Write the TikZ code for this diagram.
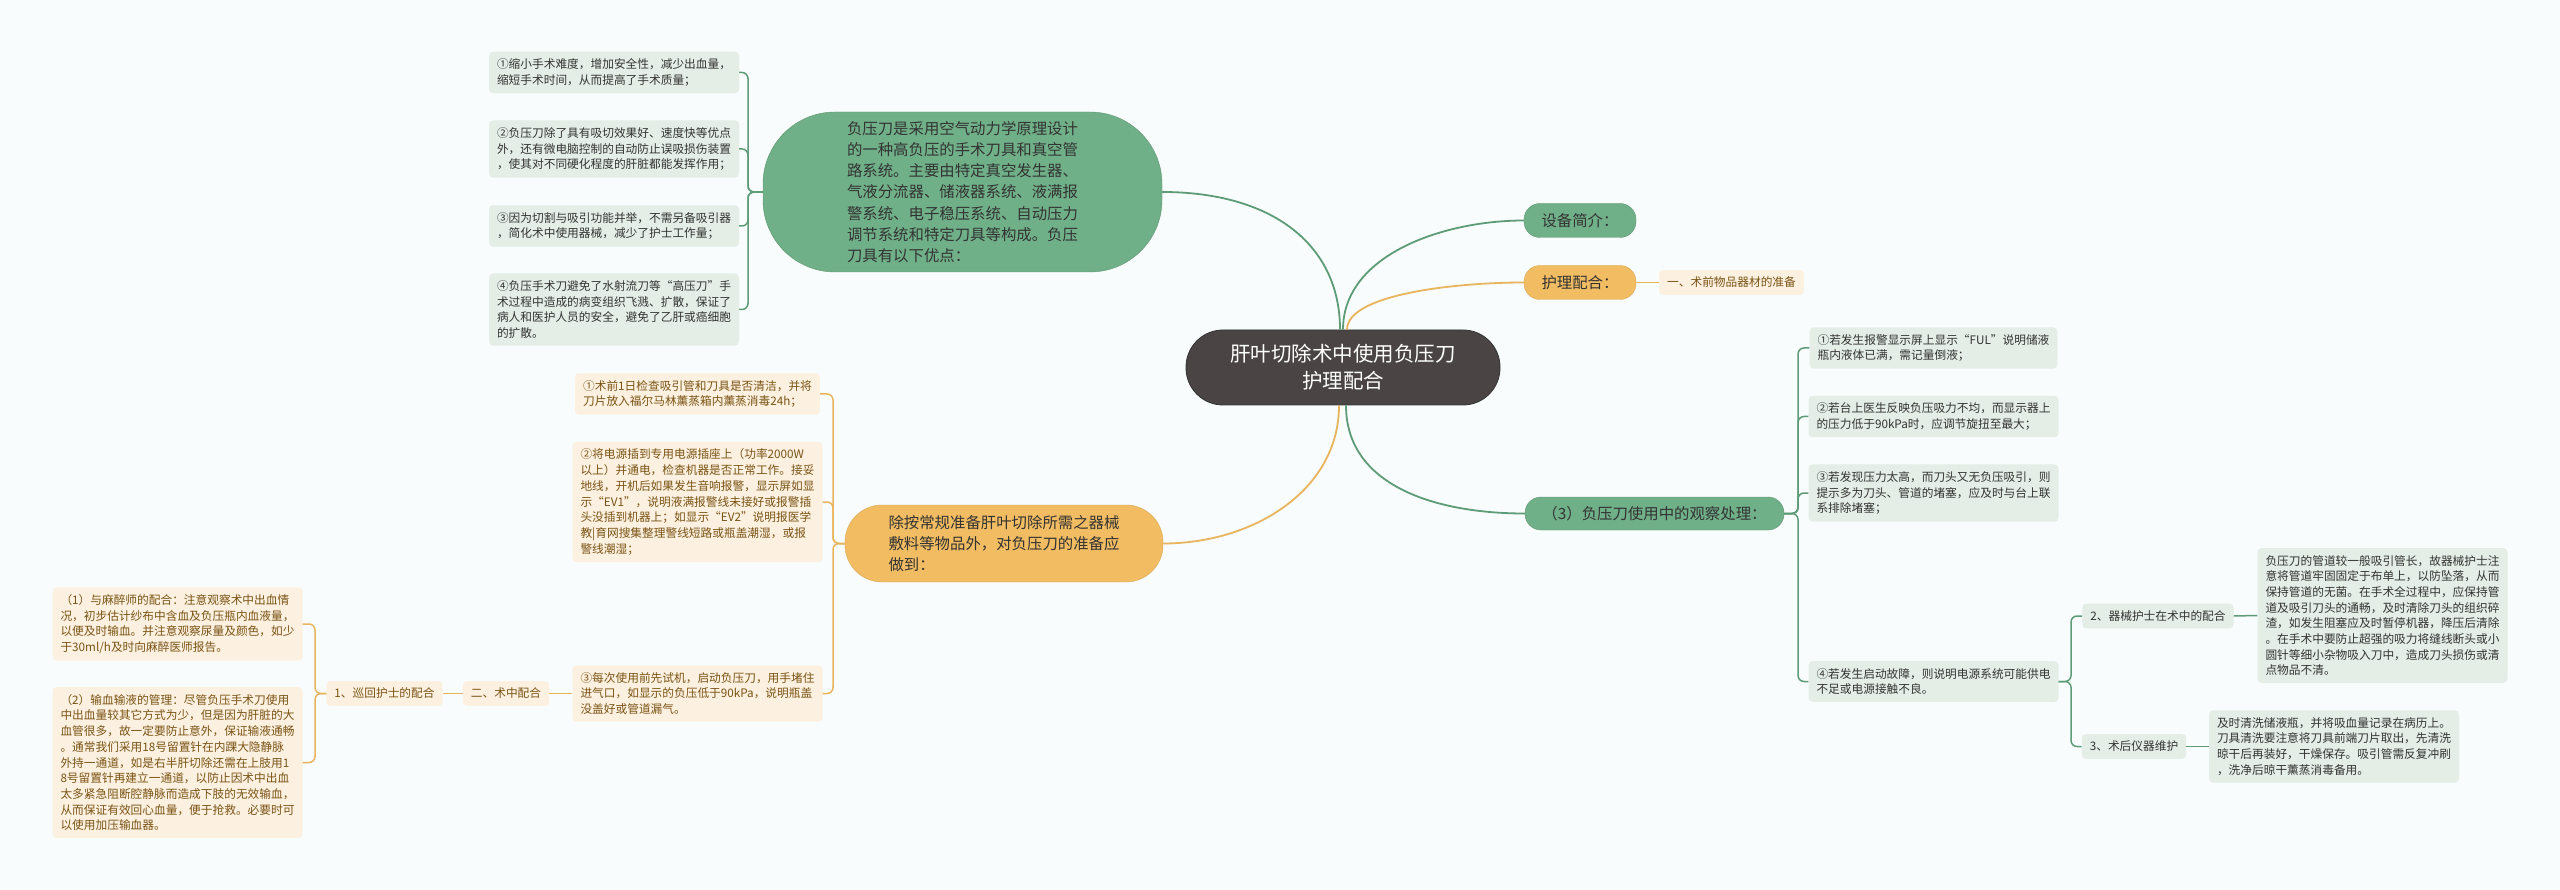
\documentclass[tikz,border=0pt]{standalone}
\usepackage{fontspec}
\setmainfont{Noto Sans CJK SC}
\usepackage{xcolor}
\usepackage{tikz}
\usetikzlibrary{positioning, calc}

\definecolor{bgc}{HTML}{F8FCFC}
\definecolor{rootc}{HTML}{4A4544}
\definecolor{gtop}{HTML}{70B088}
\definecolor{gln}{HTML}{5E9C78}
\definecolor{gleafc}{HTML}{E4EEE7}
\definecolor{otop}{HTML}{F1BC62}
\definecolor{oln}{HTML}{E8B45C}
\definecolor{oleafc}{HTML}{FCF0E0}
\definecolor{txt}{HTML}{333333}
\definecolor{otxt}{HTML}{7A5414}

\newcommand{\leaffont}{\fontsize{11.7}{15.7}\selectfont}
\newcommand{\topicfont}{\fontsize{15.4}{21.2}\selectfont}
\newcommand{\rootfont}{\fontsize{20.5}{27}\selectfont}

\tikzset{
  gline/.style  = {draw=gln, line width=1.8pt},
  oline/.style  = {draw=oln, line width=1.8pt},
  gsub/.style   = {draw=gln, line width=1.5pt, rounded corners=6pt},
  osub/.style   = {draw=oln, line width=1.5pt, rounded corners=6pt},
  root/.style   = {fill=rootc, draw=black!80, line width=0.8pt,
                   rounded corners=37pt, minimum width=314pt,
                   minimum height=75pt, align=center, text=white,
                   font=\rootfont},
  gtopic/.style = {fill=gtop, draw=gtop!85!black, line width=0.4pt,
                   align=left, text=txt, font=\topicfont},
  otopic/.style = {fill=otop, draw=otop!90!black, line width=0.4pt,
                   align=left, text=txt, font=\topicfont},
  pill/.style   = {rounded corners=16pt, minimum height=34pt},
  gleaf/.style  = {fill=gleafc, rounded corners=4pt, align=left,
                   text=txt, font=\leaffont, inner xsep=8pt,
                   inner ysep=7pt},
  oleaf/.style  = {fill=oleafc, rounded corners=4pt, align=left,
                   text=otxt, font=\leaffont, inner xsep=8pt,
                   inner ysep=7pt},
}

\begin{document}
\begin{tikzpicture}[x=1pt, y=-1pt]

    % Background and page size
    \fill[bgc] (0,0) rectangle (2560,890);
    \useasboundingbox (0,0) rectangle (2560,890);

    % --- ROOT ---
    \node[root] (root) at (1343,367.5) {肝叶切除术中使用负压刀\\护理配合};

    % --- RIGHT: TOPICS ---
    \node[gtopic, pill, minimum width=112pt] (intro) at (1580,220.5) {设备简介：};
    \node[otopic, pill, minimum width=112pt] (care) at (1580,282.5) {护理配合：};
    \node[oleaf] (prep) at (1731.5,282.5) {一、术前物品器材的准备};
    \node[gtopic, pill, minimum width=259pt, minimum height=33pt] (obs) at (1654.5,513.5) {（3）负压刀使用中的观察处理：};

    % Observation items
    \node[gleaf] (obs1) at (1933.5,348) {①若发生报警显示屏上显示“FUL”说明储液\\瓶内液体已满，需记量倒液；};
    \node[gleaf] (obs2) at (1933.5,416.5) {②若台上医生反映负压吸力不均，而显示器上\\的压力低于90kPa时，应调节旋扭至最大；};
    \node[gleaf] (obs3) at (1933.5,493) {③若发现压力太高，而刀头又无负压吸引，则\\提示多为刀头、管道的堵塞，应及时与台上联\\系排除堵塞；};
    \node[gleaf] (obs4) at (1933.5,681.5) {④若发生启动故障，则说明电源系统可能供电\\不足或电源接触不良。};

    % Nurse items under obs4
    \node[gleaf] (inst) at (2158,616) {2、器械护士在术中的配合};
    \node[gleaf] (post) at (2134,746.5) {3、术后仪器维护};
    \node[gleaf] (instx) at (2382.5,615.5) {负压刀的管道较一般吸引管长，故器械护士注\\意将管道牢固固定于布单上，以防坠落，从而\\保持管道的无菌。在手术全过程中，应保持管\\道及吸引刀头的通畅，及时清除刀头的组织碎\\渣，如发生阻塞应及时暂停机器，降压后清除\\。在手术中要防止超强的吸力将缝线断头或小\\圆针等细小杂物吸入刀中，造成刀头损伤或清\\点物品不清。};
    \node[gleaf] (postx) at (2334,746.5) {及时清洗储液瓶，并将吸血量记录在病历上。\\刀具清洗要注意将刀具前端刀片取出，先清洗\\晾干后再装好，干燥保存。吸引管需反复冲刷\\，洗净后晾干薰蒸消毒备用。};

    % --- LEFT: GREEN TOPIC ---
    \node[gtopic, rounded corners=72pt, minimum width=399pt, minimum height=160pt] (gmain) at (962.5,192)
        {负压刀是采用空气动力学原理设计\\的一种高负压的手术刀具和真空管\\路系统。主要由特定真空发生器、\\气液分流器、储液器系统、液满报\\警系统、电子稳压系统、自动压力\\调节系统和特定刀具等构成。负压\\刀具有以下优点：};

    \node[gleaf] (adv1) at (614,72.5) {①缩小手术难度，增加安全性，减少出血量，\\缩短手术时间，从而提高了手术质量；};
    \node[gleaf] (adv2) at (614,149) {②负压刀除了具有吸切效果好、速度快等优点\\外，还有微电脑控制的自动防止误吸损伤装置\\，使其对不同硬化程度的肝脏都能发挥作用；};
    \node[gleaf] (adv3) at (614,226) {③因为切割与吸引功能并举，不需另备吸引器\\，简化术中使用器械，减少了护士工作量；};
    \node[gleaf] (adv4) at (614,309.5) {④负压手术刀避免了水射流刀等“高压刀”手\\术过程中造成的病变组织飞溅、扩散，保证了\\病人和医护人员的安全，避免了乙肝或癌细胞\\的扩散。};

    % --- LEFT: ORANGE TOPIC ---
    \node[otopic, rounded corners=37pt, minimum width=318pt, minimum height=77pt] (omain) at (1004,543.5)
        {除按常规准备肝叶切除所需之器械\\敷料等物品外，对负压刀的准备应\\做到：};

    \node[oleaf] (prep1) at (697.5,394) {①术前1日检查吸引管和刀具是否清洁，并将\\刀片放入福尔马林薰蒸箱内薰蒸消毒24h；};
    \node[oleaf] (prep2) at (697.5,502) {②将电源插到专用电源插座上（功率2000W\\以上）并通电，检查机器是否正常工作。接妥\\地线，开机后如果发生音响报警，显示屏如显\\示“EV1”，说明液满报警线未接好或报警插\\头没插到机器上；如显示“EV2”说明报医学\\教|育网搜集整理警线短路或瓶盖潮湿，或报\\警线潮湿；};
    \node[oleaf] (prep3) at (697.5,693.5) {③每次使用前先试机，启动负压刀，用手堵住\\进气口，如显示的负压低于90kPa，说明瓶盖\\没盖好或管道漏气。};

    \node[oleaf] (intra) at (506,693.5) {二、术中配合};
    \node[oleaf] (tour) at (384.5,693.5) {1、巡回护士的配合};
    \node[oleaf] (tour1) at (177.5,624) {（1）与麻醉师的配合：注意观察术中出血情\\况，初步估计纱布中含血及负压瓶内血液量，\\以便及时输血。并注意观察尿量及颜色，如少\\于30ml/h及时向麻醉医师报告。};
    \node[oleaf] (tour2) at (177.5,762.5) {（2）输血输液的管理：尽管负压手术刀使用\\中出血量较其它方式为少，但是因为肝脏的大\\血管很多，故一定要防止意外，保证输液通畅\\。通常我们采用18号留置针在内踝大隐静脉\\外持一通道，如是右半肝切除还需在上肢用1\\8号留置针再建立一通道，以防止因术中出血\\太多紧急阻断腔静脉而造成下肢的无效输血，\\从而保证有效回心血量，便于抢救。必要时可\\以使用加压输血器。};

    % --- MAIN BRANCHES ---
    \draw[gline] ([xshift=-3pt]root.north) .. controls +(0,-85) and +(110,0) .. (gmain.east);
    \draw[gline] (root.north) .. controls +(0,-75) and +(-80,0) .. (intro.west);
    \draw[oline] ([xshift=4pt]root.north) .. controls +(0,-35) and +(-70,0) .. (care.west);
    \draw[oline] ([xshift=-4pt]root.south) .. controls +(0,85) and +(90,0) .. (omain.east);
    \draw[gline] ([xshift=3pt]root.south) .. controls +(0,80) and +(-90,0) .. (obs.west);

    % --- SUB BRANCHES ---
    \draw[oline, line width=1.5pt] (care.east) -- (prep.west);

    \foreach \n in {obs1,obs2,obs3,obs4}
        \draw[gsub] (obs.east) -- (1798,513.5) |- (\n.west);
    \foreach \n in {inst,post}
        \draw[gsub] (obs4.east) -- (2071,681.5) |- (\n.west);
    \draw[gsub] (inst.east) -- (instx.west);
    \draw[gsub] (post.east) -- (postx.west);

    \foreach \n in {adv1,adv2,adv3,adv4}
        \draw[gsub] (gmain.west) -- (748,192) |- (\n.east);

    \foreach \n in {prep1,prep2,prep3}
        \draw[osub] (omain.west) -- (833,543.5) |- (\n.east);
    \draw[osub] (prep3.west) -- (intra.east);
    \draw[osub] (intra.west) -- (tour.east);
    \foreach \n in {tour1,tour2}
        \draw[osub] (tour.west) -- (315,693.5) |- (\n.east);

\end{tikzpicture}
\end{document}
